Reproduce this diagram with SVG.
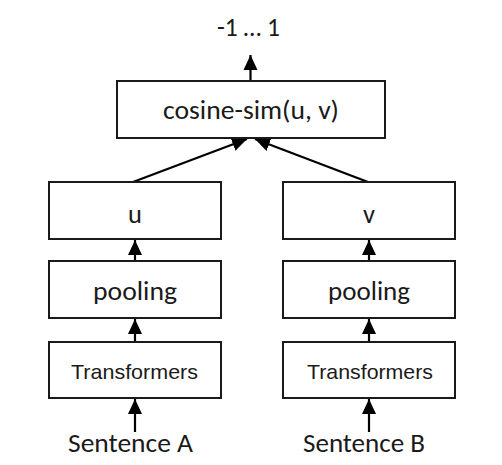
<svg xmlns="http://www.w3.org/2000/svg" width="502" height="465" viewBox="0 0 502 465">
<style>
.box{fill:#fff;stroke:#1a1a1a;stroke-width:2}
.t{font-family:Carlito,Lato,"Open Sans",sans-serif;font-size:26.5px;fill:#1a1a1a;text-anchor:middle}
.a{font-family:"Liberation Sans",Arial,sans-serif;font-size:21px;fill:#1a1a1a;text-anchor:middle}
.c{stroke:#000;stroke-width:2.2;fill:none;marker-end:url(#ah)}
</style>
<defs>
<marker id="ah" markerUnits="userSpaceOnUse" markerWidth="16" markerHeight="16" viewBox="0 0 16 16" refX="15" refY="8" orient="auto">
<path d="M0,1 L15,8 L0,15 Z" fill="#000"/>
</marker>
</defs>
<rect width="502" height="465" fill="#fff"/>
<text class="t" x="248.5" y="36" textLength="63" lengthAdjust="spacingAndGlyphs">-1 … 1</text>
<g id="connectors">
<line class="c" x1="250.5" y1="81" x2="250.5" y2="55"/>
<line class="c" x1="133" y1="182" x2="247" y2="139"/>
<line class="c" x1="368" y1="182" x2="255" y2="139"/>
<line class="c" x1="135" y1="261" x2="135" y2="240"/>
<line class="c" x1="135" y1="342" x2="135" y2="319"/>
<line class="c" x1="135" y1="432" x2="135" y2="399"/>
<line class="c" x1="369" y1="261" x2="369" y2="240"/>
<line class="c" x1="369" y1="342" x2="369" y2="319"/>
<line class="c" x1="369" y1="432" x2="369" y2="399"/>
</g>
<g id="cosine">
<rect class="box" x="117" y="81" width="268" height="57"/>
<text class="t" x="251" y="119" textLength="176" lengthAdjust="spacingAndGlyphs">cosine-sim(u, v)</text>
</g>
<g id="u">
<rect class="box" x="49" y="182" width="172" height="57"/>
<text class="t" x="135" y="223">u</text>
</g>
<g id="poolingA">
<rect class="box" x="49" y="261" width="172" height="57"/>
<text class="t" x="135" y="300" textLength="84" lengthAdjust="spacingAndGlyphs">pooling</text>
</g>
<g id="transformersA">
<rect class="box" x="49" y="342" width="172" height="56"/>
<text class="a" x="134.5" y="379" textLength="127" lengthAdjust="spacingAndGlyphs">Transformers</text>
</g>
<g id="sentenceA">
<text class="t" x="130.5" y="452" textLength="125" lengthAdjust="spacingAndGlyphs">Sentence A</text>
</g>
<g id="v">
<rect class="box" x="283" y="182" width="172" height="57"/>
<text class="t" x="369" y="223">v</text>
</g>
<g id="poolingB">
<rect class="box" x="283" y="261" width="172" height="57"/>
<text class="t" x="369" y="300" textLength="82" lengthAdjust="spacingAndGlyphs">pooling</text>
</g>
<g id="transformersB">
<rect class="box" x="283" y="342" width="172" height="56"/>
<text class="a" x="370" y="379" textLength="126" lengthAdjust="spacingAndGlyphs">Transformers</text>
</g>
<g id="sentenceB">
<text class="t" x="364" y="452" textLength="122" lengthAdjust="spacingAndGlyphs">Sentence B</text>
</g>
</svg>
